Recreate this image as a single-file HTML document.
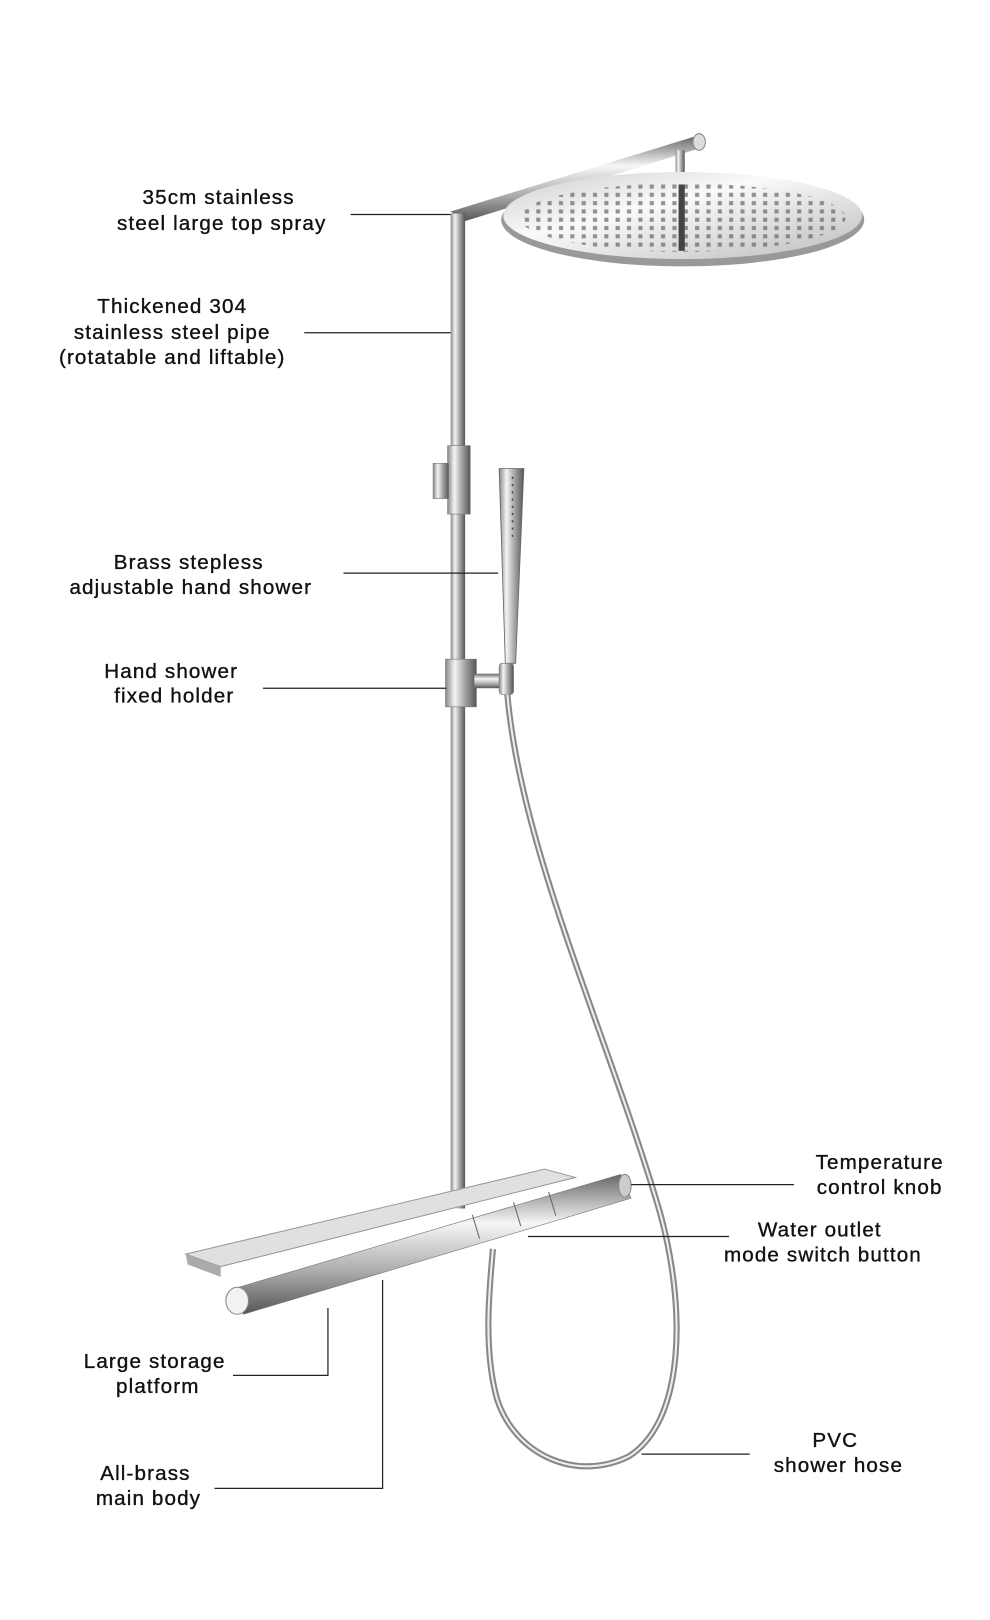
<!DOCTYPE html>
<html><head><meta charset="utf-8"><style>
html,body{margin:0;padding:0;background:#fff;}
svg{display:block;}
text{font-family:"Liberation Sans",sans-serif;font-size:20px;fill:#111;text-anchor:middle;letter-spacing:1.1px;stroke:#111;stroke-width:0.35;}
</style></head><body>
<svg width="990" height="1620" viewBox="0 0 960 1563" preserveAspectRatio="none" xmlns="http://www.w3.org/2000/svg">
<defs>
<linearGradient id="vp" x1="0" x2="1" y1="0" y2="0">
<stop offset="0" stop-color="#888"/><stop offset="0.3" stop-color="#f4f4f4"/><stop offset="0.6" stop-color="#aaa"/><stop offset="1" stop-color="#555"/>
</linearGradient>
<linearGradient id="hp" x1="0" x2="0" y1="0" y2="1">
<stop offset="0" stop-color="#666"/><stop offset="0.35" stop-color="#f6f6f6"/><stop offset="0.7" stop-color="#aaa"/><stop offset="1" stop-color="#555"/>
</linearGradient>
<linearGradient id="head" x1="0" x2="1" y1="0" y2="1">
<stop offset="0" stop-color="#ccc"/><stop offset="0.4" stop-color="#fafafa"/><stop offset="1" stop-color="#bbb"/>
</linearGradient>
<pattern id="dots" width="11" height="8" patternUnits="userSpaceOnUse">
<rect x="3" y="2" width="4" height="4" fill="#666"/>
</pattern>
</defs>

<path d="M437,204 L676,131 L682,142 L449,214 Z" fill="url(#hp)"/>
<ellipse cx="678" cy="137" rx="6" ry="8" fill="#ddd" stroke="#888"/>
<rect x="655" y="145" width="9" height="22" fill="url(#vp)"/>
<ellipse cx="662" cy="212" rx="176" ry="45" fill="#999"/>
<ellipse cx="662" cy="208" rx="174" ry="42" fill="url(#head)"/>
<ellipse cx="662" cy="210" rx="158" ry="33" fill="url(#dots)" opacity="0.7"/>
<rect x="658" y="178" width="6" height="64" fill="#444"/>

<rect x="437" y="206" width="14" height="960" fill="url(#vp)"/>
<rect x="434" y="430" width="22" height="66" fill="url(#vp)" stroke="#777" stroke-width="0.6"/>
<rect x="420" y="447" width="15" height="34" fill="url(#vp)" stroke="#777" stroke-width="0.6"/>
<path d="M484,452 L508,452 L500,640 L490,640 Z" fill="url(#vp)" stroke="#666" stroke-width="0.8"/>
<line x1="497" y1="460" x2="497" y2="520" stroke="#444" stroke-width="1.5" stroke-dasharray="2,5"/>
<rect x="432" y="636" width="30" height="46" fill="url(#vp)" stroke="#777" stroke-width="0.6"/>
<rect x="460" y="650" width="32" height="14" fill="url(#hp)"/>
<rect x="484" y="640" width="14" height="30" rx="3" fill="url(#vp)" stroke="#777" stroke-width="0.6"/>
<path d="M492,670 C505,820 590,1000 640,1170 C665,1260 665,1370 610,1405 C560,1430 500,1405 482,1350 C468,1300 475,1240 478,1205" fill="none" stroke="#888" stroke-width="6"/>
<path d="M492,670 C505,820 590,1000 640,1170 C665,1260 665,1370 610,1405 C560,1430 500,1405 482,1350 C468,1300 475,1240 478,1205" fill="none" stroke="#eee" stroke-width="2"/>

<path d="M180,1210 L528,1128 L558,1136 L214,1222 Z" fill="#e0e0e0" stroke="#999" stroke-width="1"/>
<path d="M180,1210 L214,1222 L214,1232 L182,1220 Z" fill="#aaa"/>
<path d="M228,1243 L602,1133 L612,1156 L236,1268 Z" fill="url(#hp)" stroke="#777" stroke-width="0.6"/>
<ellipse cx="230" cy="1255" rx="11" ry="13" fill="#f2f2f2" stroke="#888"/>
<ellipse cx="606" cy="1144" rx="6" ry="11" fill="#ccc" stroke="#888"/>
<line x1="458" y1="1172" x2="465" y2="1195" stroke="#666"/>
<line x1="498" y1="1160" x2="505" y2="1183" stroke="#666"/>
<line x1="532" y1="1150" x2="539" y2="1173" stroke="#666"/>

<g stroke="#222" stroke-width="1.2" fill="none">
<line x1="340" y1="207" x2="437" y2="207"/>
<line x1="295" y1="321" x2="437" y2="321"/>
<line x1="333" y1="553" x2="483" y2="553"/>
<line x1="255" y1="664" x2="433" y2="664"/>
<line x1="612" y1="1143" x2="770" y2="1143"/>
<line x1="512" y1="1193" x2="707" y2="1193"/>
<polyline points="226,1327 318,1327 318,1262"/>
<polyline points="208,1436 371,1436 371,1235"/>
<line x1="622" y1="1403" x2="727" y2="1403"/>
</g>

<text x="212" y="197">35cm stainless</text>
<text x="215" y="222">steel large top spray</text>
<text x="167" y="302">Thickened 304</text>
<text x="167" y="327">stainless steel pipe</text>
<text x="167" y="351">(rotatable and liftable)</text>
<text x="183" y="549">Brass stepless</text>
<text x="185" y="573">adjustable hand shower</text>
<text x="166" y="654">Hand shower</text>
<text x="169" y="678">fixed holder</text>
<text x="853" y="1128">Temperature</text>
<text x="853" y="1152">control knob</text>
<text x="795" y="1193">Water outlet</text>
<text x="798" y="1217">mode switch button</text>
<text x="150" y="1320">Large storage</text>
<text x="153" y="1344">platform</text>
<text x="141" y="1428">All-brass</text>
<text x="144" y="1452">main body</text>
<text x="810" y="1396">PVC</text>
<text x="813" y="1420">shower hose</text>
</svg>
</body></html>
